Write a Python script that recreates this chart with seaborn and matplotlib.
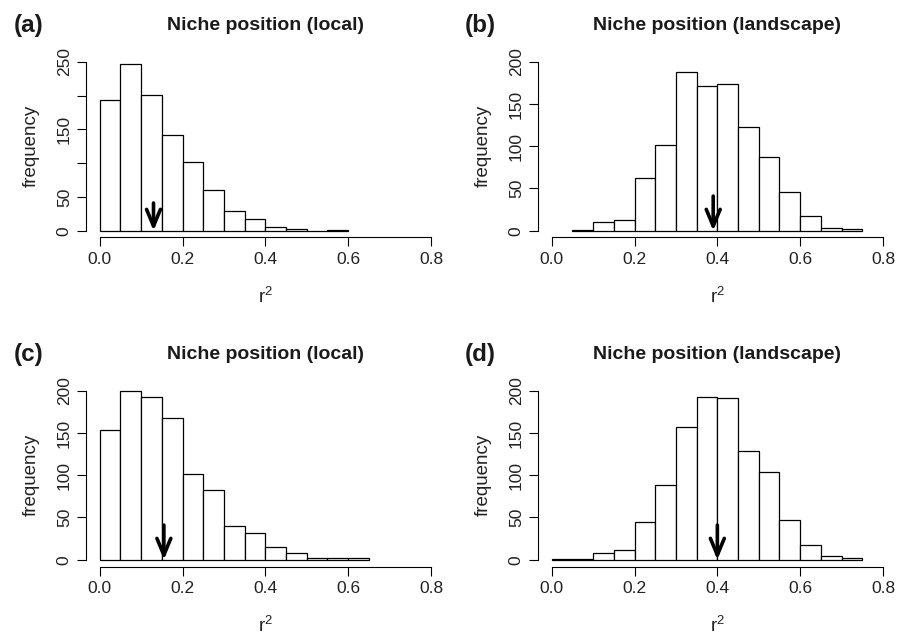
import numpy as np
import pandas as pd
import seaborn as sns
from matplotlib import pyplot as plt

######## data #############################

titles = ['Niche position (local)', 'Niche position (landscape)',
          'Niche position (local)', 'Niche position (landscape)']
panel_tags = ['(a)', '(b)', '(c)', '(d)']

# bin edges (r^2) and counts for each panel
edges_a = [0.00, 0.05, 0.10, 0.15, 0.20, 0.25, 0.30, 0.35, 0.40, 0.45, 0.50, 0.55, 0.60]
counts_a = [193, 247, 201, 141, 102, 61, 29, 18, 5, 3, 0, 1]

edges_b = [0.05, 0.10, 0.15, 0.20, 0.25, 0.30, 0.35, 0.40, 0.45, 0.50, 0.55, 0.60, 0.65, 0.70, 0.75]
counts_b = [1, 10, 13, 63, 102, 188, 171, 174, 123, 87, 46, 17, 3, 2]

edges_c = [0.00, 0.05, 0.10, 0.15, 0.20, 0.25, 0.30, 0.35, 0.40, 0.45, 0.50, 0.55, 0.60, 0.65]
counts_c = [153, 200, 193, 168, 102, 83, 40, 32, 15, 8, 2, 2, 2]

edges_d = [0.00, 0.05, 0.10, 0.15, 0.20, 0.25, 0.30, 0.35, 0.40, 0.45, 0.50, 0.55, 0.60, 0.65, 0.70, 0.75]
counts_d = [1, 1, 8, 12, 45, 89, 157, 193, 191, 129, 104, 47, 17, 4, 2]

# observed r^2 (arrows)
observed = [0.13, 0.39, 0.155, 0.40]
arrow_top = 41

x_ticks = [0.0, 0.2, 0.4, 0.6, 0.8]
x_ticklabels = ['0.0', '0.2', '0.4', '0.6', '0.8']
y_ticks_a = [0, 50, 100, 150, 200, 250]
y_ticklabels_a = ['0', '50', '', '150', '', '250']
y_ticks_rest = [0, 50, 100, 150, 200]
y_ticklabels_rest = ['0', '50', '100', '150', '200']

######## style #########

sns.set_style('ticks')
plt.rcParams['font.family'] = ['Liberation Sans', 'DejaVu Sans']
plt.rcParams['mathtext.fontset'] = 'custom'
plt.rcParams['mathtext.rm'] = 'Liberation Sans'
plt.rcParams['mathtext.default'] = 'regular'

W, H = 905, 637
fig = plt.figure(figsize=(W / 100, H / 100), dpi=100)

# axes boxes in pixels
ax_w, ax_h = 357.9, 182.5
lefts = [86.4, 538.4, 86.4, 538.4]
bottoms = [237.5, 237.5, 566.5, 566.5]

all_edges = [edges_a, edges_b, edges_c, edges_d]
all_counts = [counts_a, counts_b, counts_c, counts_d]

for i in range(4):
    ax = fig.add_axes([lefts[i] / W, 1 - bottoms[i] / H, ax_w / W, ax_h / H])

    edges = np.array(all_edges[i])
    df = pd.DataFrame({'r2': (edges[:-1] + edges[1:]) / 2,
                       'n': all_counts[i]})
    sns.histplot(data=df, x='r2', weights='n', bins=list(all_edges[i]), ax=ax,
                 color='white', edgecolor='black', linewidth=0.9, alpha=1)

    if i == 0:
        yt, ytl = y_ticks_a, y_ticklabels_a
    else:
        yt, ytl = y_ticks_rest, y_ticklabels_rest
    ytop = yt[-1]

    ax.set_xlim(-0.032, 0.832)
    ax.set_ylim(-0.04 * ytop, 1.04 * ytop)
    ax.set_xticks(x_ticks)
    ax.set_xticklabels(x_ticklabels)
    ax.set_yticks(yt)
    ax.set_yticklabels(ytl, rotation=90, va='center')
    ax.set_xlabel('')
    ax.set_ylabel('')

    for s in ['top', 'right']:
        ax.spines[s].set_visible(False)
    ax.spines['left'].set_bounds(0, ytop)
    ax.spines['bottom'].set_bounds(0, 0.8)
    for s in ['left', 'bottom']:
        ax.spines[s].set_linewidth(0.8)
        ax.spines[s].set_color('black')
    ax.tick_params(length=6.5, width=0.8, color='black', labelsize=12.5,
                   labelcolor='#222222')
    ax.tick_params(axis='x', pad=4)
    ax.tick_params(axis='y', pad=4)

    # observed value arrow
    ax.annotate('', xy=(observed[i], 0), xytext=(observed[i], arrow_top),
                arrowprops=dict(arrowstyle='->, head_length=1.2, head_width=0.5',
                                lw=2.6, color='black', shrinkA=0, shrinkB=0))

    ax.text(0.5, 1 + 25 / ax_h, titles[i], transform=ax.transAxes,
            ha='center', va='baseline', fontsize=14, fontweight='bold',
            color='#1a1a1a')
    ax.text(0.5, -(303 - 237.5) / ax_h, 'r$^2$', transform=ax.transAxes,
            ha='center', va='baseline', fontsize=13.5, color='#222222')
    ax.text(-(86.4 - 31.7) / ax_w, 0.5, 'frequency', transform=ax.transAxes,
            rotation=90, ha='center', va='center', fontsize=13.5, color='#222222')

    # panel tag
    tag_x = 13.3 if i % 2 == 0 else 465
    tag_y = 31.7 + (bottoms[i] - 237.5)
    fig.text(tag_x / W, 1 - tag_y / H, panel_tags[i], ha='left', va='baseline',
             fontsize=17.5, fontweight='bold', color='#1a1a1a')

plt.savefig('out.png', dpi=100)
